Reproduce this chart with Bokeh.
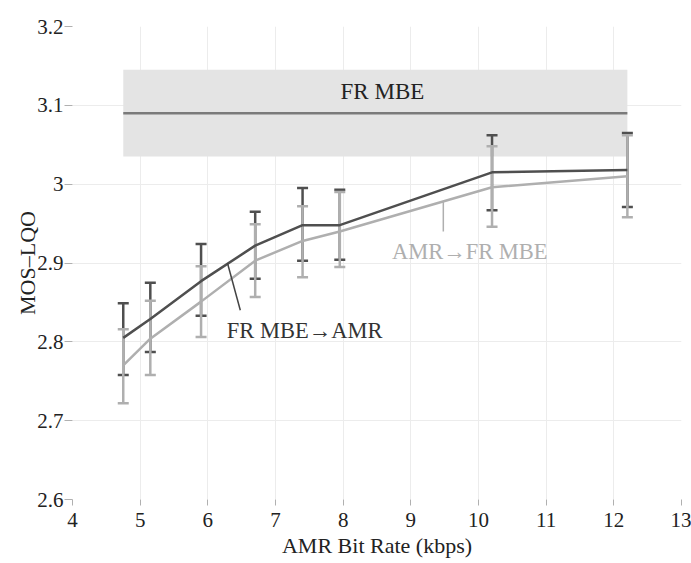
from bokeh.plotting import figure
from bokeh.models import ColumnDataSource, Whisker, TeeHead, FixedTicker, BoxAnnotation, Range1d
from bokeh.core.properties import value
from bokeh.embed import file_html
from bokeh.resources import INLINE

# AMR modes (kbps)
bit_rate = [4.75, 5.15, 5.9, 6.7, 7.4, 7.95, 10.2, 12.2]

# FR MBE -> AMR (dark)
fr_amr_mean = [2.805, 2.829, 2.877, 2.922, 2.948, 2.948, 3.015, 3.018]
fr_amr_upper = [2.849, 2.875, 2.924, 2.965, 2.995, 2.993, 3.062, 3.065]
fr_amr_lower = [2.758, 2.787, 2.833, 2.880, 2.903, 2.904, 2.967, 2.971]

# AMR -> FR MBE (light)
amr_fr_mean = [2.770, 2.804, 2.851, 2.903, 2.928, 2.940, 2.996, 3.010]
amr_fr_upper = [2.816, 2.852, 2.896, 2.949, 2.972, 2.990, 3.048, 3.062]
amr_fr_lower = [2.722, 2.758, 2.806, 2.857, 2.882, 2.895, 2.946, 2.958]

# FR MBE reference band
fr_mbe_mean = 3.09
fr_mbe_low = 3.035
fr_mbe_high = 3.145

x_ticks = [4, 5, 6, 7, 8, 9, 10, 11, 12, 13]
y_ticks = [2.6, 2.7, 2.8, 2.9, 3.0, 3.1, 3.2]
y_tick_labels = ["2.6", "2.7", "2.8", "2.9", "3", "3.1", "3.2"]

FONT = "Liberation Serif"
DARK = "#4f4f4f"
LIGHT = "#afafaf"

p = figure(frame_width=609, frame_height=473, output_backend="svg", toolbar_location=None,
           x_range=Range1d(4, 13), y_range=Range1d(2.6, 3.2),
           min_border_left=72, min_border_top=26, min_border_right=10, min_border_bottom=40)
p.outline_line_color = None
p.background_fill_color = "white"
p.border_fill_color = "white"

for ax in (p.xaxis[0], p.yaxis[0]):
    ax.axis_line_color = None
    ax.major_tick_line_color = "#b0b0b0"
    ax.major_tick_in = 0
    ax.minor_tick_line_color = None
    ax.major_label_text_font = FONT
    ax.major_label_text_font_size = "21px"
    ax.major_label_text_color = "#222222"
    ax.axis_label_text_font = FONT
    ax.axis_label_text_font_size = "22px"
    ax.axis_label_text_font_style = "normal"
    ax.axis_label_text_color = "#222222"

p.xaxis.major_tick_out = 6
p.yaxis.major_tick_out = 8
p.xaxis.ticker = FixedTicker(ticks=x_ticks)
p.yaxis.ticker = FixedTicker(ticks=y_ticks)
p.yaxis.major_label_overrides = {t: l for t, l in zip(y_ticks, y_tick_labels)}
p.xaxis.axis_label = "AMR Bit Rate (kbps)"
p.yaxis.axis_label = "MOS–LQO"
p.xaxis.major_label_standoff = 7
p.xaxis.axis_label_standoff = 3
p.yaxis.major_label_standoff = 1
p.yaxis.axis_label_standoff = -6

p.xgrid.grid_line_color = "#ececec"
p.ygrid.grid_line_color = "#ececec"
p.xgrid.grid_line_width = 1
p.ygrid.grid_line_width = 1

# FR MBE band
band = BoxAnnotation(left=bit_rate[0], right=bit_rate[-1], bottom=fr_mbe_low, top=fr_mbe_high,
                     fill_color="#e4e4e4", fill_alpha=1.0, line_color=None, level="underlay")
p.add_layout(band)
p.line([bit_rate[0], bit_rate[-1]], [fr_mbe_mean, fr_mbe_mean], line_color="#7a7a7a", line_width=2.5)
p.text(x=[8.58], y=[3.118], text=["FR MBE"], text_font=value(FONT), text_font_size="23px",
       text_color="#222222", text_align="center", text_baseline="middle")

# series lines
p.line(bit_rate, amr_fr_mean, line_color=LIGHT, line_width=2.5)
p.line(bit_rate, fr_amr_mean, line_color=DARK, line_width=2.5)

# error bars
src_d = ColumnDataSource(dict(x=bit_rate, up=fr_amr_upper, lo=fr_amr_lower))
src_l = ColumnDataSource(dict(x=bit_rate, up=amr_fr_upper, lo=amr_fr_lower))
wd = Whisker(base="x", upper="up", lower="lo", source=src_d, line_color=DARK, line_width=2.5,
             upper_head=TeeHead(size=11, line_color=DARK, line_width=2.5),
             lower_head=TeeHead(size=11, line_color=DARK, line_width=2.5))
wl = Whisker(base="x", upper="up", lower="lo", source=src_l, line_color=LIGHT, line_width=2.5,
             upper_head=TeeHead(size=11, line_color=LIGHT, line_width=2.5),
             lower_head=TeeHead(size=11, line_color=LIGHT, line_width=2.5))
p.add_layout(wd)
p.add_layout(wl)

# annotations
p.segment(x0=[6.29], y0=[2.900], x1=[6.48], y1=[2.840], line_color="#444444", line_width=1.5)
p.text(x=[6.28], y=[2.815], text=["FR MBE→AMR"], text_font=value(FONT), text_font_size="22.5px",
       text_color="#333333", text_align="left", text_baseline="middle")
p.segment(x0=[9.48], y0=[2.978], x1=[9.48], y1=[2.940], line_color=LIGHT, line_width=1.5)
p.text(x=[8.72], y=[2.915], text=["AMR→FR MBE"], text_font=value(FONT), text_font_size="22.5px",
       text_color=LIGHT, text_align="left", text_baseline="middle")

open("out.html", "w").write(file_html(p, INLINE))
